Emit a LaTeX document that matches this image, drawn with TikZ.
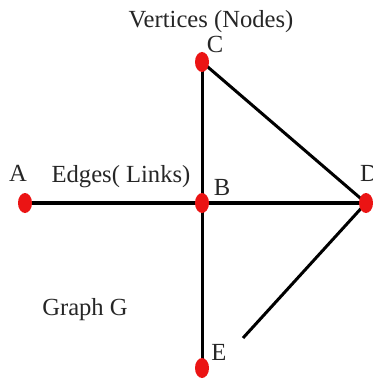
\documentclass[tikz,border=0pt]{standalone}
\usepackage{fontspec}
\setmainfont{Liberation Serif}
\usetikzlibrary{positioning,shapes.geometric,backgrounds}
\definecolor{dotred}{RGB}{235,20,20}

\begin{document}
\begin{tikzpicture}[x=0.5pt, y=-0.5pt, font=\fontsize{12.3}{14}\selectfont,
    vertex/.style={ellipse, fill=dotred, inner sep=0pt, minimum width=7pt, minimum height=10pt},
    edge/.style={draw=black, line width=1.5pt},
    tag/.style={inner sep=0pt, text=black!85}]
  \useasboundingbox (0,0) rectangle (373,379);

  % vertices
  \node[vertex] (A) at (25,203) {};
  \node[vertex] (B) at (202,203) {};
  \node[vertex] (C) at (202,62) {};
  \node[vertex] (D) at (366,203) {};
  \node[vertex] (E) at (202,368) {};
  \coordinate (Eend) at (243,338);

  % edges
  \begin{scope}[on background layer]
    \draw[edge, line width=1.9pt] (A.center) -- (D.center);
    \draw[edge] (C.center) -- (E.center);
    \draw[edge] (C.center) -- (D.center);
    \draw[edge] (D.center) -- (Eend);
  \end{scope}

  % letters
  \node[tag] (lA) at (18,173) {A};
  \node[tag] (lB) at (222,187) {B};
  \node[tag] (lC) at (215,44) {C};
  \node[tag] (lD) at (369,173) {D};
  \node[tag] (lE) at (219,352) {E};

  % captions
  \node[tag] (vtx) at (211,22) {Vertices (Nodes)};
  \node[tag] (edg) at (121,177) {Edges( Links)};
  \node[tag] (grf) at (85,310) {Graph G};
\end{tikzpicture}
\end{document}
